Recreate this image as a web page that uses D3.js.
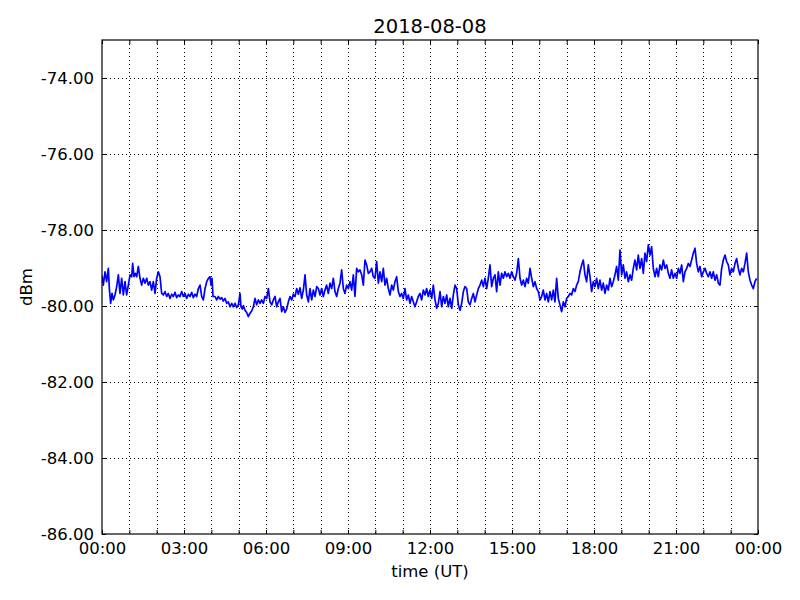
<!DOCTYPE html>
<html>
<head>
<meta charset="utf-8">
<script src="https://cdn.jsdelivr.net/npm/d3@7/dist/d3.min.js"></script>
<style>
  html, body { margin: 0; padding: 0; background: #fff; }
  svg { display: block; font-family: "DejaVu Sans", sans-serif; }
</style>
</head>
<body>
<svg id="chart" width="800" height="600"></svg>
<script>
const title = "2018-08-08";
const xLabel = "time (UT)";
const yLabel = "dBm";
const yTicks = [-86, -84, -82, -80, -78, -76, -74];
const xMajorTicks = [0, 180, 360, 540, 720, 900, 1080, 1260, 1440];
const xTickLabels = ["00:00", "03:00", "06:00", "09:00", "12:00", "15:00", "18:00", "21:00", "00:00"];
const xMinorTicks = [60, 120, 240, 300, 420, 480, 600, 660, 780, 840, 960, 1020, 1140, 1200, 1320, 1380];

// time of day in minutes (UT)
const minutes = [
0,2.9,6.6,10.2,13.9,16.1,19.0,22.0,24.9,28.5,32.2,35.9,39.5,43.2,46.8,50.5,54.1,57.8,61.5,65.1,67.3,70.2,73.2,76.1,79.8,83.4,87.1,90.7,94.4,98.1,101.7,105.4,109.0,112.7,116.4,120.0,123.7,127.3,131.0,134.7,138.3,142.0,145.6,149.3,153.0,156.6,160.3,163.9,167.6,171.3,174.9,178.6,182.2,185.9,189.6,193.2,196.9,200.5,204.2,207.9,211.5,215.2,218.8,222.5,226.2,229.8,233.5,
237.1,239.3,241.5,243.7,248.1,251.7,255.4,259.1,262.7,266.4,270.0,273.7,277.3,281.0,284.7,288.3,292.0,295.6,299.3,303.0,305.1,308.1,310.3,313.9,317.6,321.2,324.9,328.6,332.2,335.9,339.5,343.2,346.9,350.5,354.2,357.8,361.5,365.2,368.8,372.5,376.1,379.8,383.5,387.1,390.8,394.4,398.1,401.7,405.4,409.1,412.7,416.4,420.0,423.7,427.4,431.0,434.7,438.3,442.0,445.7,449.3,453.0,456.6,460.3,463.9,467.6,471.3,474.9,478.6,
482.2,485.8,489.5,493.1,496.8,500.5,504.1,507.8,511.4,515.1,518.7,522.4,526.1,529.7,533.4,537.0,540.7,544.4,548.0,551.7,555.3,559.0,562.7,566.3,570.0,573.6,577.3,581.0,584.6,588.3,591.9,595.6,599.2,602.9,606.6,610.2,613.9,617.5,621.2,624.8,628.5,632.2,635.8,639.5,643.1,646.8,650.5,654.1,657.8,661.4,665.1,668.7,672.4,676.1,679.7,683.4,687.0,690.7,694.3,698.0,701.7,705.3,709.0,712.6,716.3,720.0,
723.7,727.3,731.0,734.6,738.3,742.0,745.6,749.3,752.9,756.6,760.2,763.9,767.6,771.2,774.9,778.5,782.2,785.9,789.5,793.2,796.8,800.5,804.1,807.8,811.5,815.1,818.8,822.4,826.1,829.8,833.4,837.1,840.7,844.4,848.0,851.7,855.4,859.0,862.7,866.3,870.0,873.7,877.3,881.0,884.6,888.3,891.9,895.6,899.3,902.9,906.6,910.2,913.9,917.6,921.2,924.9,928.5,932.2,935.8,939.5,943.2,946.8,950.5,954.1,957.8,961.5,
965.1,968.7,972.4,976.0,979.7,983.4,987.0,990.7,994.3,998.0,1001.6,1005.3,1009.0,1012.6,1016.3,1019.9,1023.6,1027.3,1030.9,1034.6,1038.2,1041.9,1045.5,1049.2,1052.9,1056.5,1060.2,1063.8,1067.5,1071.2,1074.8,1078.5,1082.1,1085.8,1089.4,1093.1,1096.8,1100.4,1104.1,1107.7,1111.4,1115.1,1118.7,1122.4,1126.0,1129.7,1133.3,1137.0,1140.7,1144.3,1148.0,1151.6,1155.3,1159.0,1162.6,1166.3,1169.9,1173.6,1177.2,1180.9,1184.6,1188.2,1191.9,1195.5,1199.2,1202.9,
1206.5,1210.2,1213.9,1217.5,1221.2,1224.8,1228.5,1232.2,1235.8,1239.5,1243.1,1246.8,1250.4,1254.1,1257.8,1261.4,1265.1,1268.7,1272.4,1276.1,1279.7,1283.4,1287.0,1290.7,1294.3,1298.0,1301.7,1305.3,1309.0,1312.6,1316.3,1320.0,1323.6,1327.3,1330.9,1334.6,1338.2,1341.9,1345.6,1349.2,1352.9,1356.5,1360.2,1363.9,1367.5,1371.2,1374.8,1378.5,1382.2,1385.8,1389.5,1393.1,1396.8,1400.4,1404.1,1407.8,1411.4,1415.1,1418.7,1422.4,1426.1,1429.7,1433.3,1437.0
];

// received signal level (dBm)
const dbm = [
-79.20,-79.45,-79.10,-79.36,-79.01,-79.54,-79.93,-79.67,-79.84,-79.71,-79.49,-79.18,-79.67,-79.27,-79.71,-79.36,-79.71,-79.45,-79.18,-79.23,-78.88,-79.23,-79.14,-79.23,-78.96,-79.27,-79.45,-79.27,-79.40,-79.27,-79.45,-79.36,-79.58,-79.36,-79.67,-79.27,-79.10,-79.23,-79.67,-79.71,-79.62,-79.75,-79.67,-79.80,-79.69,-79.75,-79.64,-79.78,-79.71,-79.75,-79.62,-79.75,-79.67,-79.80,-79.69,-79.75,-79.64,-79.78,-79.69,-79.75,-79.54,-79.45,-79.75,-79.84,-79.54,-79.36,-79.27,
-79.23,-79.45,-79.27,-79.75,-79.75,-79.84,-79.75,-79.82,-79.78,-79.87,-79.80,-79.93,-79.89,-80.02,-79.93,-80.02,-79.93,-80.04,-79.97,-79.67,-80.02,-80.08,-79.99,-80.11,-80.17,-80.28,-80.19,-80.13,-80.02,-79.80,-79.97,-79.84,-79.93,-79.84,-79.93,-79.75,-79.80,-79.54,-79.89,-79.97,-79.84,-79.75,-80.02,-79.89,-79.80,-80.15,-80.02,-80.17,-80.08,-79.89,-79.75,-79.84,-79.69,-79.75,-79.54,-79.69,-79.52,-79.80,-79.58,-79.18,-79.71,-79.89,-79.54,-79.84,-79.58,-79.75,-79.49,-79.54,-79.71,
-79.54,-79.75,-79.58,-79.45,-79.67,-79.40,-79.54,-79.27,-79.62,-79.75,-79.54,-79.40,-79.05,-79.54,-79.67,-79.45,-79.54,-79.36,-79.58,-79.18,-79.75,-79.01,-79.10,-79.05,-79.18,-79.45,-78.79,-78.92,-79.14,-79.10,-79.01,-79.23,-79.27,-78.83,-79.40,-79.10,-79.36,-79.01,-79.45,-79.27,-79.54,-79.71,-79.45,-79.58,-79.36,-79.23,-79.62,-79.75,-79.67,-79.80,-79.54,-79.84,-79.71,-79.93,-79.75,-79.89,-80.02,-79.89,-79.75,-79.67,-79.84,-79.58,-79.71,-79.54,-79.75,-79.58,
-79.80,-79.45,-79.84,-80.06,-79.93,-79.62,-80.02,-79.75,-79.93,-79.71,-80.02,-79.80,-80.06,-79.71,-79.45,-79.54,-79.97,-80.11,-79.93,-79.62,-79.49,-79.54,-79.89,-79.97,-79.80,-79.67,-79.89,-79.71,-79.54,-79.45,-79.32,-79.49,-79.27,-79.54,-79.27,-78.92,-79.49,-79.27,-79.18,-79.62,-79.10,-79.45,-79.14,-79.27,-79.10,-79.23,-79.14,-79.27,-79.10,-79.23,-79.32,-79.14,-78.75,-79.27,-79.45,-79.32,-79.49,-79.27,-79.40,-79.01,-79.27,-79.49,-79.36,-79.54,-79.62,-79.84,
-79.75,-79.58,-79.84,-79.67,-79.89,-79.62,-79.84,-79.58,-79.89,-79.27,-79.80,-79.97,-80.15,-79.89,-80.02,-79.80,-79.75,-79.67,-79.71,-79.54,-79.62,-79.45,-79.36,-79.10,-78.92,-78.79,-79.18,-79.36,-78.92,-79.23,-79.62,-79.36,-79.49,-79.27,-79.54,-79.32,-79.58,-79.40,-79.67,-79.45,-79.58,-79.27,-79.49,-79.36,-79.18,-78.96,-79.32,-78.53,-79.18,-78.92,-79.27,-79.10,-79.36,-79.18,-79.32,-79.01,-78.79,-79.05,-78.66,-79.01,-78.75,-79.14,-78.61,-78.83,-78.39,-78.66,
-78.44,-79.01,-79.23,-79.01,-79.23,-78.92,-79.05,-78.79,-79.01,-78.92,-79.14,-79.27,-79.05,-79.27,-79.14,-79.27,-79.01,-79.14,-78.92,-79.36,-79.10,-79.01,-78.88,-78.96,-78.79,-78.61,-78.48,-78.88,-79.10,-78.96,-79.23,-79.10,-79.01,-79.14,-79.23,-79.10,-79.27,-79.10,-79.32,-79.18,-79.40,-79.45,-79.01,-78.79,-78.66,-78.83,-78.92,-79.18,-79.01,-79.10,-78.88,-78.75,-79.01,-79.18,-79.01,-79.10,-78.88,-78.61,-79.10,-79.32,-79.45,-79.54,-79.36,-79.27
];

const margin = { left: 102, right: 42, top: 40, bottom: 66 };
const W = 800, H = 600;
const svg = d3.select("#chart");

const x = d3.scaleLinear().domain([0, 1440]).range([margin.left, W - margin.right]);
const y = d3.scaleLinear().domain([-86, -73]).range([H - margin.bottom, margin.top]);

const x0 = x.range()[0], x1 = x.range()[1];
const y0 = y.range()[0], y1 = y.range()[1];

// grid
const grid = svg.append("g").attr("stroke", "#000").attr("stroke-width", 1).attr("stroke-dasharray", "1,3").attr("shape-rendering", "crispEdges");
xMajorTicks.concat(xMinorTicks).forEach(t => {
  if (t <= 0 || t >= 1440) return;
  grid.append("line").attr("x1", Math.round(x(t)) + 0.5).attr("x2", Math.round(x(t)) + 0.5).attr("y1", y1).attr("y2", y0);
});
yTicks.forEach(v => {
  if (v <= -86) return;
  grid.append("line").attr("y1", Math.round(y(v)) + 0.5).attr("y2", Math.round(y(v)) + 0.5).attr("x1", x0).attr("x2", x1);
});

// data line
const line = d3.line().x((d, i) => x(minutes[i])).y(d => y(d));
svg.append("defs").append("clipPath").attr("id", "clip")
  .append("rect").attr("x", x0).attr("y", y1).attr("width", x1 - x0).attr("height", y0 - y1);
svg.append("path").datum(dbm)
  .attr("clip-path", "url(#clip)")
  .attr("fill", "none").attr("stroke", "#0000ff").attr("stroke-width", 1.7)
  .attr("stroke-linejoin", "round")
  .attr("d", line);

// axes (ticks inside, on all four sides)
const fmtY = d => d.toFixed(2);
const allX = xMajorTicks.concat(xMinorTicks);
const bottomAxis = d3.axisBottom(x).tickValues(xMajorTicks).tickSizeInner(-4).tickSizeOuter(0)
  .tickFormat((d, i) => xTickLabels[i]).tickPadding(8);
const gB = svg.append("g").attr("transform", `translate(0,${y0})`).call(bottomAxis);
const topAxis = d3.axisTop(x).tickValues(xMajorTicks).tickSizeInner(-4).tickSizeOuter(0).tickFormat("");
const gT = svg.append("g").attr("transform", `translate(0,${y1})`).call(topAxis);
const leftAxis = d3.axisLeft(y).tickValues(yTicks).tickSizeInner(-4).tickSizeOuter(0)
  .tickFormat(d => fmtY(d)).tickPadding(8);
const gL = svg.append("g").attr("transform", `translate(${x0},0)`).call(leftAxis);
const rightAxis = d3.axisRight(y).tickValues(yTicks).tickSizeInner(-4).tickSizeOuter(0).tickFormat("");
const gR = svg.append("g").attr("transform", `translate(${x1},0)`).call(rightAxis);

// hourly ticks on x
const bottomMinor = d3.axisBottom(x).tickValues(xMinorTicks).tickSizeInner(-4).tickSizeOuter(0).tickFormat("");
const gBm = svg.append("g").attr("transform", `translate(0,${y0})`).call(bottomMinor);
const topMinor = d3.axisTop(x).tickValues(xMinorTicks).tickSizeInner(-4).tickSizeOuter(0).tickFormat("");
const gTm = svg.append("g").attr("transform", `translate(0,${y1})`).call(topMinor);

[gB, gT, gL, gR, gBm, gTm].forEach(g => {
  g.select(".domain").remove();
  g.selectAll("line").attr("stroke", "#000").attr("stroke-width", 1);
  g.selectAll("text").attr("font-family", "DejaVu Sans").attr("font-size", 16.5).attr("fill", "#000");
});

// frame
svg.append("rect").attr("x", x0).attr("y", y1).attr("width", x1 - x0).attr("height", y0 - y1)
  .attr("fill", "none").attr("stroke", "#000").attr("stroke-width", 1.2);

// title & labels
svg.append("text").attr("x", (x0 + x1) / 2).attr("y", 33).attr("text-anchor", "middle")
  .attr("font-size", 19.5).attr("fill", "#000").text(title);
svg.append("text").attr("x", (x0 + x1) / 2).attr("y", 577).attr("text-anchor", "middle")
  .attr("font-size", 16.5).attr("fill", "#000").text(xLabel);
svg.append("text").attr("transform", `translate(32,${(y0 + y1) / 2}) rotate(-90)`).attr("text-anchor", "middle")
  .attr("font-size", 16.5).attr("fill", "#000").text(yLabel);
</script>
</body>
</html>
